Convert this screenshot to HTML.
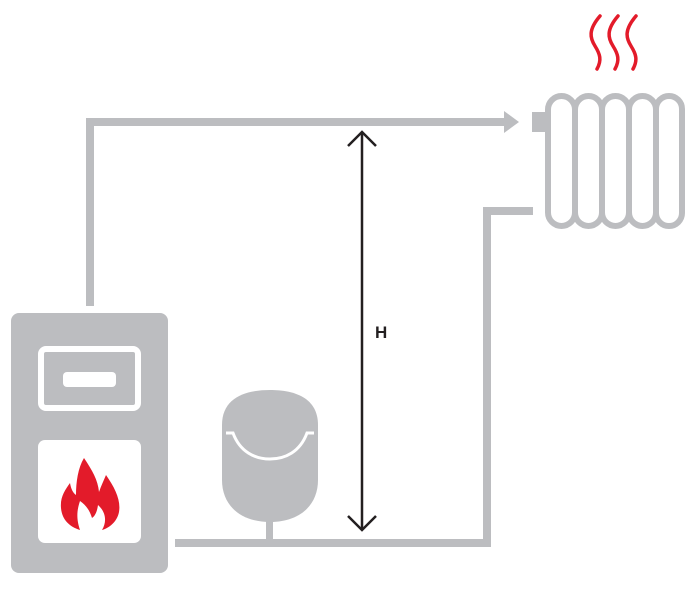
<!DOCTYPE html>
<html><head><meta charset="utf-8"><style>
html,body{margin:0;padding:0;background:#fff;width:698px;height:589px;overflow:hidden}
svg{display:block}
</style></head><body>
<svg width="698" height="589" viewBox="0 0 698 589">
  <g fill="#bcbdc0">
    <rect x="86" y="118" width="8" height="188"/>
    <rect x="86" y="118" width="420" height="8"/>
    <polygon points="504,111 519,122 504,133"/>
    <rect x="532" y="112" width="14" height="20"/>
    <rect x="483" y="207" width="50" height="8"/>
    <rect x="483" y="207" width="8" height="340"/>
    <rect x="175" y="539" width="316" height="8"/>
    <rect x="266" y="518" width="7" height="22"/>
    <path d="M222,425 C222,398 245,390 270,390 C295,390 318,398 318,425 L318,480 C318,505 300,522 270,522 C240,522 222,505 222,480 Z"/>
    <rect x="11" y="313" width="157" height="260" rx="8"/>
  </g>
  <path d="M226,433 L233,433 C240,452 255,459 270,459 C285,459 300,452 307,433 L314,433" fill="none" stroke="#fff" stroke-width="3"/>
  <g fill="#fff" stroke="#bcbdc0" stroke-width="6">
    <rect x="548" y="96" width="27" height="130" rx="13.5"/>
    <rect x="575" y="96" width="27" height="130" rx="13.5"/>
    <rect x="602" y="96" width="27" height="130" rx="13.5"/>
    <rect x="629" y="96" width="27" height="130" rx="13.5"/>
    <rect x="656" y="96" width="26" height="130" rx="13"/>
  </g>
  <g fill="none" stroke="#e31b2a" stroke-width="3.5" stroke-linecap="round">
    <path d="M600,16 C588,30 590,38 595,46 C600,54 602,60 597,69"/>
    <path d="M618,16 C606,30 608,38 613,46 C618,54 620,60 615,69"/>
    <path d="M636,16 C624,30 626,38 631,46 C636,54 638,60 633,69"/>
  </g>
  <rect x="41" y="349" width="97" height="59" rx="5" fill="#bcbdc0" stroke="#fff" stroke-width="6"/>
  <rect x="63" y="372" width="53" height="15" rx="4" fill="#fff"/>
  <rect x="38" y="440" width="103" height="103" rx="7" fill="#fff"/>
  <path fill="#e31b2a" d="M84,458 C92,470 98,480 99,492 C101,486 104,480 106,475 C115,488 121,500 119,512 C117,522 109,528 102,530 C107,522 106,512 98,505 C97,512 95,516 92,518 C90,511 86,505 80,501 C77,510 76,518 80,530 C70,527 62,520 61,508 C60,497 65,490 70,483 C71,489 73,493 76,495 C76,482 78,468 84,458 Z"/>
  <g fill="none" stroke="#231f20" stroke-width="2.5">
    <line x1="362" y1="132" x2="362" y2="530"/>
    <polyline points="348,146 362,132 376,146"/>
    <polyline points="348,516 362,530 376,516"/>
  </g>
  <text x="375" y="338" font-family="Liberation Sans, sans-serif" font-weight="bold" font-size="17" fill="#231f20">H</text>
</svg>
</body></html>
